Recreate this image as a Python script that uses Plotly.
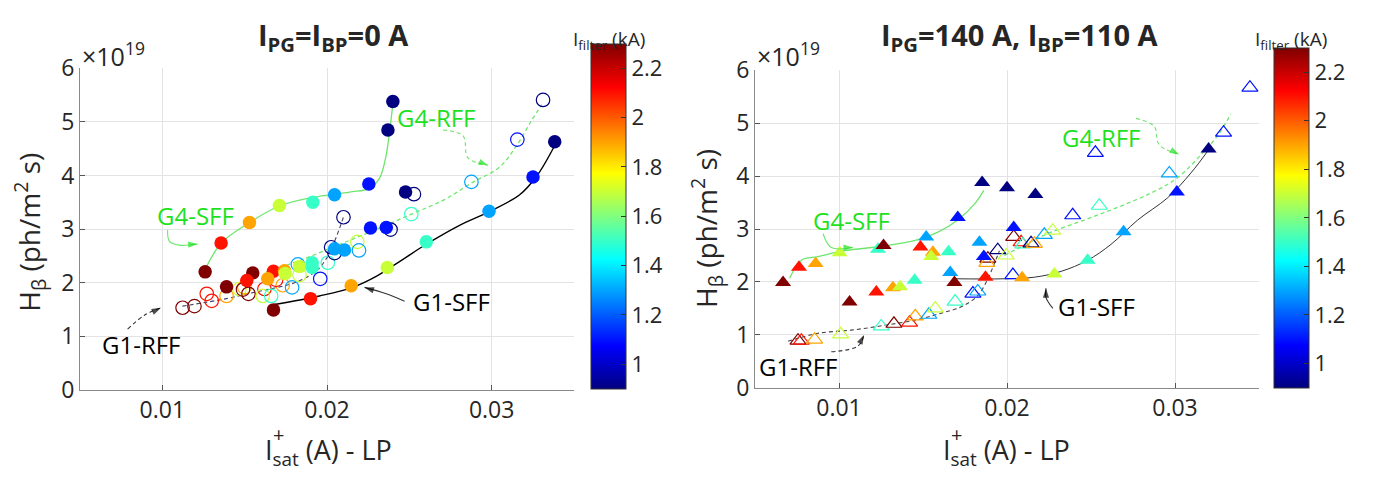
import plotly.graph_objects as go

W, H = 1375, 485

# ---------------- data: left panel (I_PG = I_BP = 0 A) ----------------
# filled circles (SFF shots): I_sat+ (A), H_beta (1e19 ph/m^2 s), I_filter (kA)
left_sff_x = [0.0126, 0.01357, 0.01529, 0.01711, 0.01914, 0.02046, 0.02254, 0.02370, 0.02400,
              0.01675, 0.0190, 0.02147, 0.02366, 0.02603, 0.02984, 0.03251, 0.03383,
              0.0139, 0.01549, 0.01513, 0.01675, 0.0164, 0.01742, 0.01746, 0.01833,
              0.0191, 0.0191, 0.02046, 0.02106, 0.02264, 0.0236, 0.02477]
left_sff_y = [2.20, 2.74, 3.12, 3.44, 3.50, 3.64, 3.84, 4.85, 5.38,
              1.49, 1.70, 1.94, 2.28, 2.76, 3.33, 3.97, 4.63,
              1.92, 2.18, 2.04, 2.21, 2.07, 2.22, 2.17, 2.30,
              2.37, 2.28, 2.63, 2.61, 3.02, 3.03, 3.69]
left_sff_c = [2.3, 2.1, 1.9, 1.7, 1.5, 1.3, 1.1, 0.9, 0.9,
              2.3, 2.1, 1.9, 1.7, 1.5, 1.3, 1.1, 0.9,
              2.3, 2.3, 2.1, 2.1, 1.9, 1.9, 1.7, 1.7,
              1.5, 1.5, 1.3, 1.3, 1.1, 1.1, 0.9]

# open circles (RFF shots)
left_rff_x = [0.01123, 0.01195, 0.0127, 0.0130, 0.0139, 0.01468, 0.01498, 0.01523, 0.0149,
              0.0162, 0.0161, 0.01661, 0.01731, 0.01691, 0.01788, 0.01833, 0.01823, 0.01959,
              0.02005, 0.02025, 0.02046, 0.0210, 0.02184, 0.02194, 0.02386, 0.02528,
              0.02512, 0.02877, 0.03156, 0.03312]
left_rff_y = [1.53, 1.56, 1.79, 1.66, 1.75, 1.88, 1.91, 1.79, 1.87,
              1.88, 1.75, 1.75, 1.95, 2.05, 1.91, 2.14, 2.34, 2.07,
              2.37, 2.66, 2.55, 3.22, 2.76, 2.60, 2.99, 3.65,
              3.28, 3.88, 4.67, 5.41]
left_rff_c = [2.3, 2.3, 2.1, 2.1, 1.9, 1.7, 1.9, 2.3, 2.3,
              2.1, 1.7, 1.5, 1.9, 2.1, 1.3, 1.7, 1.3, 1.1,
              1.5, 0.9, 0.9, 0.9, 1.7, 1.3, 0.9, 0.9,
              1.5, 1.3, 1.1, 0.9]

# trend curves
left_g4sff_x = [0.01267, 0.01359, 0.01529, 0.01711, 0.01912, 0.02137, 0.02258, 0.02319, 0.02356, 0.02398]
left_g4sff_y = [2.29, 2.74, 3.12, 3.43, 3.59, 3.69, 3.76, 3.95, 4.33, 5.29]
left_g1sff_x = [0.01681, 0.01954, 0.02155, 0.02307, 0.02459, 0.02605, 0.02805, 0.02988, 0.0317, 0.03274, 0.03383]
left_g1sff_y = [1.59, 1.75, 1.91, 2.13, 2.43, 2.72, 3.07, 3.33, 3.64, 3.99, 4.56]
left_g4rff_x = [0.01632, 0.01833, 0.02058, 0.02289, 0.02514, 0.02714, 0.02878, 0.03049, 0.03158, 0.03243, 0.03304]
left_g4rff_y = [2.20, 2.41, 2.69, 2.98, 3.28, 3.55, 3.86, 4.16, 4.59, 5.03, 5.32]
left_g1rff_x = [0.01122, 0.01389, 0.01529, 0.01669, 0.01815, 0.01936, 0.02003, 0.02046, 0.0210]
left_g1rff_y = [1.56, 1.70, 1.80, 1.89, 2.01, 2.22, 2.48, 2.77, 3.22]

# ---------------- data: right panel (I_PG = 140 A, I_BP = 110 A) ----------------
right_sff_x = [0.00667, 0.00762, 0.00861, 0.01004, 0.01232, 0.01265, 0.01519, 0.01485, 0.01559,
               0.01549, 0.01652, 0.01662, 0.01687, 0.01222, 0.01321, 0.01364, 0.0145, 0.01063,
               0.01707, 0.01852, 0.01836, 0.01862, 0.01872, 0.0200, 0.02169, 0.0204,
               0.0209, 0.02282, 0.0248, 0.02694, 0.03011, 0.0320]
right_sff_y = [1.99, 2.28, 2.35, 2.55, 2.62, 2.69, 2.85, 2.66, 2.56,
               2.48, 2.57, 2.18, 1.99, 1.81, 1.89, 1.91, 2.03, 1.62,
               3.22, 3.88, 2.75, 2.48, 2.09, 3.78, 3.65, 3.03,
               2.08, 2.15, 2.41, 2.95, 3.70, 4.51]
right_sff_c = [2.3, 2.1, 1.9, 1.7, 1.5, 2.3, 1.3, 2.1, 1.9,
               1.7, 1.5, 1.3, 2.3, 2.1, 1.9, 1.7, 1.5, 2.3,
               1.1, 0.9, 1.3, 1.1, 2.1, 0.9, 0.9, 1.1,
               1.9, 1.7, 1.5, 1.3, 1.1, 0.9]

right_rff_x = [0.00756, 0.00776, 0.00855, 0.0101, 0.01251, 0.01327, 0.0142, 0.01454, 0.01535,
               0.01573, 0.01691, 0.01797, 0.01826, 0.01886, 0.0188, 0.01945, 0.01995, 0.0204,
               0.02084, 0.02094, 0.02143, 0.02163, 0.02222, 0.02272, 0.02035, 0.02391,
               0.02549, 0.02966, 0.02526, 0.03289, 0.03446]
right_rff_y = [0.89, 0.89, 0.91, 1.01, 1.16, 1.21, 1.23, 1.35, 1.38,
               1.50, 1.63, 1.78, 1.82, 2.44, 2.36, 2.60, 2.50, 2.85,
               2.75, 2.71, 2.73, 2.72, 2.89, 2.97, 2.13, 3.26,
               3.44, 4.05, 4.44, 4.82, 5.67]
right_rff_c = [2.3, 2.1, 1.9, 1.7, 1.5, 2.3, 2.1, 1.9, 1.3,
               1.7, 1.5, 1.1, 1.3, 2.3, 1.9, 0.9, 1.7, 2.3,
               2.1, 1.5, 0.9, 1.9, 1.3, 1.7, 1.1, 1.1,
               1.5, 1.3, 1.1, 1.1, 1.1]

right_g4sff_x = [0.00706, 0.00776, 0.00875, 0.01033, 0.01271, 0.0147, 0.01589, 0.01707, 0.01806, 0.01862]
right_g4sff_y = [2.07, 2.41, 2.48, 2.59, 2.68, 2.80, 2.94, 3.17, 3.47, 3.73]
right_g1sff_x = [0.01687, 0.01985, 0.02163, 0.02322, 0.0248, 0.02619, 0.02778, 0.02956, 0.03095, 0.03194]
right_g1sff_y = [2.06, 2.06, 2.09, 2.20, 2.41, 2.71, 3.17, 3.59, 4.06, 4.47]
right_g4rff_x = [0.01985, 0.02124, 0.02262, 0.0246, 0.02659, 0.02857, 0.03015, 0.03174, 0.03253, 0.03332]
right_g4rff_y = [2.50, 2.73, 2.94, 3.17, 3.41, 3.68, 3.97, 4.47, 4.76, 5.17]
right_g1rff_x = [0.00697, 0.00875, 0.01073, 0.01271, 0.0147, 0.01608, 0.01727, 0.01826, 0.01886, 0.01925, 0.01955]
right_g1rff_y = [0.88, 1.03, 1.09, 1.18, 1.29, 1.41, 1.53, 1.74, 2.06, 2.35, 2.59]

# curve labels: text, text position, pointer path, pointer dash
left_labels = [
    ("G4-SFF", 0.01199, 3.25, [0.01032, 0.01043, 0.01103, 0.01215], [2.98, 2.77, 2.70, 2.72], "solid"),
    ("G4-RFF", 0.02664, 5.08, [0.02704, 0.02826, 0.02856, 0.02978], [4.85, 4.74, 4.33, 4.19], "4px,3px"),
    ("G1-SFF", 0.02755, 1.65, [0.02471, 0.0236, 0.02228], [1.65, 1.79, 1.91], "solid"),
    ("G1-RFF", 0.0087, 0.84, [0.00789, 0.00891, 0.00992], [1.13, 1.39, 1.53], "4px,3px"),
]
right_labels = [
    ("G4-SFF", 0.01073, 3.17, [0.00905, 0.00954, 0.01083], [2.91, 2.65, 2.65], "solid"),
    ("G4-RFF", 0.0256, 4.73, [0.02768, 0.02876, 0.02906, 0.03025], [5.09, 4.94, 4.59, 4.41], "4px,3px"),
    ("G1-SFF", 0.02534, 1.53, [0.02273, 0.02232, 0.02232], [1.50, 1.71, 1.88], "solid"),
    ("G1-RFF", 0.00756, 0.41, [0.00954, 0.01113, 0.01149], [0.68, 0.79, 1.00], "4px,3px"),
]

xticks = [0.01, 0.02, 0.03]
yticks = [0, 1, 2, 3, 4, 5, 6]
cticks = [1.0, 1.2, 1.4, 1.6, 1.8, 2.0, 2.2]

GREEN_TXT = "rgb(30,225,30)"
GREEN_LINE = "rgb(110,230,110)"
JET = [[0.0, "rgb(0,0,128)"], [0.125, "rgb(0,0,255)"], [0.375, "rgb(0,255,255)"],
       [0.625, "rgb(255,255,0)"], [0.875, "rgb(255,0,0)"], [1.0, "rgb(128,0,0)"]]
FONT = "Open Sans"
TXT = "#262626"


def px(x):
    return x / W


def py(y):
    return 1 - y / H


fig = go.Figure()


def add_panel(xa, ya, cax, sym, msize, sff, rff, curves, labels):
    # trend curves
    for (cx, cy, color, dash, width) in curves:
        fig.add_trace(go.Scatter(x=cx, y=cy, mode="lines", xaxis=xa, yaxis=ya,
                                 line=dict(color=color, dash=dash, width=width,
                                           shape="spline", smoothing=1.0),
                                 hoverinfo="skip", showlegend=False))
    # open markers
    fig.add_trace(go.Scatter(x=rff[0], y=rff[1], mode="markers", xaxis=xa, yaxis=ya,
                             marker=dict(symbol=sym + "-open", size=msize, color=rff[2],
                                         coloraxis=cax, line=dict(width=1.2)),
                             showlegend=False))
    # filled markers
    fig.add_trace(go.Scatter(x=sff[0], y=sff[1], mode="markers", xaxis=xa, yaxis=ya,
                             marker=dict(symbol=sym, size=msize, color=sff[2],
                                         coloraxis=cax, line=dict(width=0)),
                             showlegend=False))
    # curve labels with pointers
    for (txt, tx, ty, ax_, ay_, dash) in labels:
        g4 = txt.startswith("G4")
        col = GREEN_TXT if g4 else "black"
        lcol = GREEN_LINE if g4 else "#333333"
        n = len(ax_)
        fig.add_trace(go.Scatter(x=ax_, y=ay_, mode="lines+markers", xaxis=xa, yaxis=ya,
                                 line=dict(color=lcol, width=1.1, dash=dash,
                                           shape="spline", smoothing=1.0),
                                 marker=dict(symbol="arrow", angleref="previous",
                                             size=[0] * (n - 1) + [10], color=col,
                                             line=dict(width=0)),
                                 hoverinfo="skip", showlegend=False))
        fig.add_annotation(x=tx, y=ty, xref=xa, yref=ya, text=txt,
                           showarrow=False, font=dict(family=FONT, size=24, color=col))


add_panel("x", "y", "coloraxis", "circle", 13.5,
          (left_sff_x, left_sff_y, left_sff_c), (left_rff_x, left_rff_y, left_rff_c),
          [(left_g4sff_x, left_g4sff_y, GREEN_LINE, "solid", 1.3),
           (left_g4rff_x, left_g4rff_y, GREEN_LINE, "4px,3px", 1.3),
           (left_g1sff_x, left_g1sff_y, "black", "solid", 1.4),
           (left_g1rff_x, left_g1rff_y, "#444466", "4px,3px", 1.1)],
          left_labels)
add_panel("x2", "y2", "coloraxis2", "triangle-up", 14,
          (right_sff_x, right_sff_y, right_sff_c), (right_rff_x, right_rff_y, right_rff_c),
          [(right_g4sff_x, right_g4sff_y, GREEN_LINE, "solid", 1.3),
           (right_g4rff_x, right_g4rff_y, GREEN_LINE, "4px,3px", 1.3),
           (right_g1sff_x, right_g1sff_y, "#333333", "solid", 1.0),
           (right_g1rff_x, right_g1rff_y, "#444444", "4px,3px", 1.1)],
          right_labels)

axis_common = dict(showgrid=True, gridcolor="#e3e3e3", gridwidth=1, zeroline=False,
                   showline=True, linecolor="#8a8a8a", linewidth=1,
                   ticks="inside", ticklen=5, tickcolor="#555555",
                   tickfont=dict(family=FONT, size=23, color=TXT))

cbar_common = dict(thickness=35, lenmode="pixels", xanchor="left", yanchor="bottom",
                   xpad=0, ypad=0, outlinewidth=1, outlinecolor="#333333",
                   ticks="inside", ticklen=5, tickcolor="#333333",
                   tickvals=cticks, ticktext=[f"{v:g}" for v in cticks],
                   tickfont=dict(family=FONT, size=22, color=TXT))

fig.update_layout(
    width=W, height=H, margin=dict(l=0, r=0, t=0, b=0),
    paper_bgcolor="white", plot_bgcolor="white",
    xaxis=dict(domain=[px(80), px(574)], range=[0.005, 0.035], tickvals=xticks,
               ticktext=["0.01", "0.02", "0.03"], anchor="y", **axis_common),
    yaxis=dict(domain=[py(399), py(55)], range=[0, 6], tickvals=yticks, anchor="x",
               **axis_common),
    xaxis2=dict(domain=[px(755), px(1259)], range=[0.005, 0.035], tickvals=xticks,
                ticktext=["0.01", "0.02", "0.03"], anchor="y2", **axis_common),
    yaxis2=dict(domain=[py(397), py(57)], range=[0, 6], tickvals=yticks, anchor="x2",
                **axis_common),
    coloraxis=dict(colorscale=JET, cmin=0.9, cmax=2.3,
                   colorbar=dict(x=px(591), y=py(398), len=345, **cbar_common)),
    coloraxis2=dict(colorscale=JET, cmin=0.9, cmax=2.3,
                    colorbar=dict(x=px(1274), y=py(397), len=340, **cbar_common)),
)

# panel titles, axis titles, exponent labels, colorbar titles
texts = [
    (333, 21, "<b>I<sub>PG</sub>=I<sub>BP</sub>=0 A</b>", 29, 0, "center"),
    (1020, 21, "<b>I<sub>PG</sub>=140 A, I<sub>BP</sub>=110 A</b>", 29, 0, "center"),
    (80, 40, "×10<sup>19</sup>", 25, 0, "left"),
    (755, 40, "×10<sup>19</sup>", 25, 0, "left"),
    (609, 25, "I<sub>filter</sub> (kA)", 19, 0, "center"),
    (1291, 25, "I<sub>filter</sub> (kA)", 19, 0, "center"),
    (30, 231, "H<sub>β</sub> (ph/m<sup>2</sup> s)", 28, -90, "center"),
    (706, 227, "H<sub>β</sub> (ph/m<sup>2</sup> s)", 28, -90, "center"),
    (328, 465, "I<sub>sat</sub> (A) - LP", 27, 0, "center"),
    (1006, 465, "I<sub>sat</sub> (A) - LP", 27, 0, "center"),
    (278, 447, "+", 20, 0, "center"),
    (956, 447, "+", 20, 0, "center"),
]
for (x0, y0, t, s, ang, xan) in texts:
    fig.add_annotation(x=px(x0), y=py(y0), xref="paper", yref="paper", text=t,
                       showarrow=False, textangle=ang, xanchor=xan, yanchor="middle",
                       font=dict(family=FONT, size=s, color=TXT))

fig.write_html("out.html")
